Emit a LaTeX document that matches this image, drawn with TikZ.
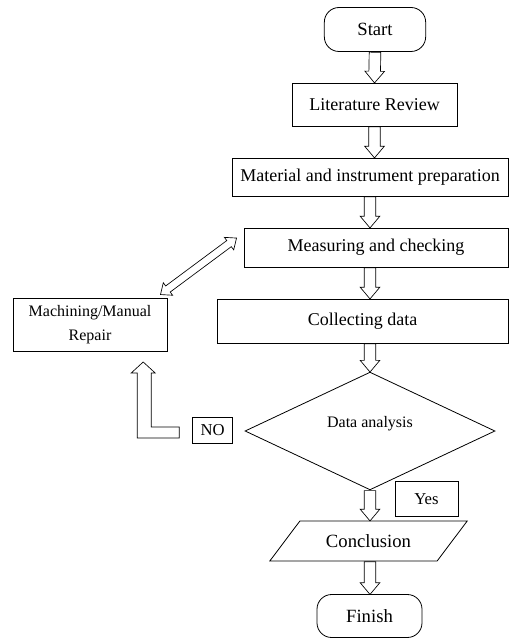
\documentclass[tikz,border=0pt]{standalone}
\usepackage{fontspec}
\setmainfont{Liberation Serif}
\usetikzlibrary{calc,shapes.geometric,shapes.arrows}
\tikzset{
    box/.style={
        draw,
        line width=0.6pt,
        inner sep=2pt
    },
    terminal/.style={
        box,
        rounded corners=11pt,
        minimum width=76pt,
        minimum height=33pt,
        font=\fontsize{14}{16}\selectfont
    },
    process/.style={
        box,
        font=\fontsize{13.5}{16}\selectfont
    },
    decision/.style={
        box,
        diamond,
        inner sep=0pt,
        minimum width=187.5pt,
        minimum height=82.5pt,
        text height=9pt,
        text depth=15pt,
        font=\fontsize{12}{14}\selectfont
    },
    io/.style={
        box,
        trapezium,
        trapezium left angle=43,
        trapezium right angle=137,
        trapezium stretches=true,
        minimum width=149pt,
        minimum height=30pt,
        font=\fontsize{14}{16}\selectfont
    },
    tag/.style={
        box,
        font=\fontsize{12.5}{14}\selectfont
    },
    shafthead/.style={
        draw,
        line width=0.5pt,
        single arrow,
        inner sep=0pt,
        inner ysep=4.1pt,
        single arrow head extend=3pt,
        single arrow tip angle=80
    },
    twinhead/.style={
        draw,
        line width=0.5pt,
        double arrow,
        inner sep=0pt,
        inner ysep=2.6pt,
        double arrow head extend=3pt,
        double arrow tip angle=80
    },
    hollow/.style={
        to path={let \p1=($(\tikztotarget)-(\tikztostart)$),
            \n1={veclen(\x1,\y1)}, \n2={atan2(\y1,\x1)} in
            node[shafthead,minimum height=\n1,rotate=\n2,anchor=tail]
            at (\tikztostart) {}}
    },
    twoway/.style={
        to path={let \p1=($(\tikztotarget)-(\tikztostart)$),
            \n1={veclen(\x1,\y1)}, \n2={atan2(\y1,\x1)} in
            node[twinhead,minimum height=\n1,rotate=\n2]
            at ($(\tikztostart)!0.5!(\tikztotarget)$) {}}
    }
}

\begin{document}
\begin{tikzpicture}[x=0.75pt,y=-0.75pt]

    \useasboundingbox (0,0) rectangle (509,638);

    %% main column
    \node (T1) [terminal] at (375,29.5) {Start};
    \node (P1) [process,minimum width=123.75pt,minimum height=32.25pt]
        at ($(T1)+(-0.5,75)$) {Literature Review};
    \node (P2) [process,minimum width=207pt,minimum height=28.5pt]
        at ($(P1)+(-4.5,72.5)$) {Material and instrument preparation};
    \node (P3) [process,minimum width=198pt,minimum height=29.25pt]
        at ($(P2)+(6,70.5)$) {Measuring and checking};
    \node (P4) [process,minimum width=218.25pt,minimum height=33pt]
        at ($(P3)+(-13.5,73.5)$) {Collecting data};
    \node (D1) [decision] at ($(P4)+(7.5,110)$) {Data analysis};
    \node (O1) [io] at ($(D1)+(-1.5,110)$) {Conclusion};
    \node (T2) [terminal,minimum width=78.75pt,minimum height=32.25pt]
        at ($(O1)+(1,75)$) {Finish};

    %% repair branch
    \node (R1) [process,align=center,minimum width=115.5pt,minimum height=39.75pt,
        font=\fontsize{12}{18}\selectfont]
        at ($(P4)+(-272.5,3.5)$) {Machining/Manual\\Repair};
    \node (N1) [tag,minimum width=30pt,minimum height=19.5pt]
        at ($(D1.west)+(-32,-1)$) {NO};
    \node (Y1) [tag,minimum width=47.25pt,minimum height=26.25pt]
        at ($(D1.south)+(56.5,8.5)$) {Yes};

    %% arrows
    \draw (T1.south) to[hollow] (P1.north);
    \draw (P1.south) to[hollow] (P1.south |- P2.north);
    \draw (P2.south -| D1.north) to[hollow] (P3.north -| D1.north);
    \draw (P3.south -| D1.north) to[hollow] (P4.north -| D1.north);
    \draw (P4.south -| D1.north) to[hollow] (D1.north);
    \draw (D1.south) to[hollow] (D1.south |- O1.north);
    \draw (D1.south |- O1.south) to[hollow] (D1.south |- T2.north);

    \coordinate (a1) at ($(R1.north east)+(-7,-3)$);
    \coordinate (a2) at ($(P3.west)+(-7,-9.5)$);
    \draw (a1) to[twoway] (a2);

    \draw[line width=0.5pt] ($(N1.west)+(-13,-3)$) -- ++(-28,0) -- ++(0,-54)
        -- ++(4,0) -- ++(-12,-11) -- ++(-12,11) -- ++(6,0) -- ++(0,65)
        -- ++(42,0) -- cycle;

\end{tikzpicture}
\end{document}
